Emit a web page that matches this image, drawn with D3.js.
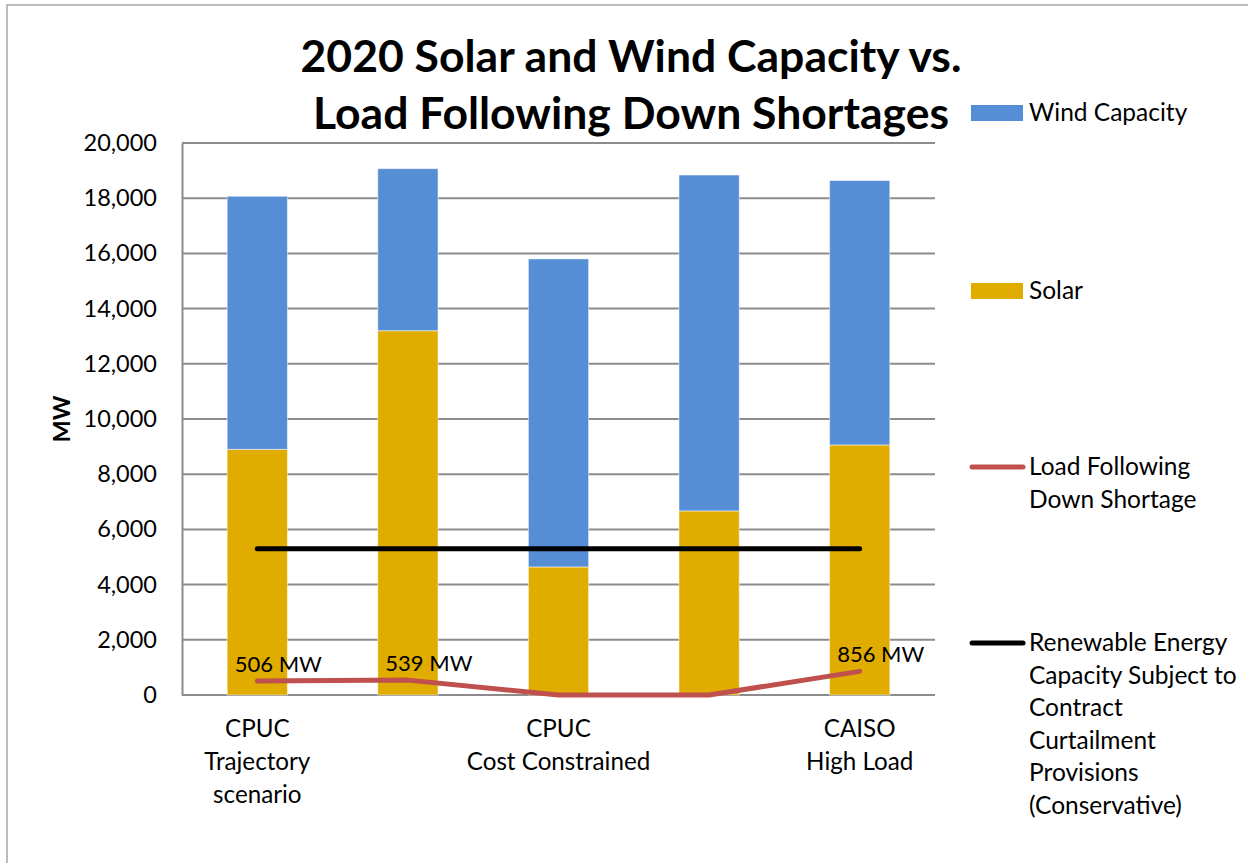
<!DOCTYPE html>
<meta charset="utf-8">
<script src="https://d3js.org/d3.v7.min.js"></script>
<style>
  body { margin: 0; background: #fff; }
  text { font-family: Lato, "Open Sans", sans-serif; fill: #000; }
</style>
<div id="chart"></div>
<script>

// data (MW)
var scenarios = [
  ["CPUC", "Trajectory", "scenario"],
  [""],
  ["CPUC", "Cost Constrained"],
  [""],
  ["CAISO", "High Load"]
];
var solar = [8900, 13200, 4640, 6670, 9060];
var wind = [9170, 5870, 11160, 12170, 9580];
var shortage = [506, 539, 0, 0, 856];
var shortageLabels = ["506 MW", "539 MW", "", "", "856 MW"];
var curtailable = [5300, 5300, 5300, 5300, 5300];
var yTicks = [0, 2000, 4000, 6000, 8000, 10000, 12000, 14000, 16000, 18000, 20000];

var W = 1248, H = 863;
var margin = {top: 143, left: 182, right: 313, bottom: 168};
var width = W - margin.left - margin.right,
    height = H - margin.top - margin.bottom;

var svg = d3.select("#chart").append("svg")
  .attr("width", W).attr("height", H);

// outer chart border
svg.append("rect")
  .attr("x", 7).attr("y", 5)
  .attr("width", 1260).attr("height", 880)
  .attr("fill", "none").attr("stroke", "#a6a6a6").attr("stroke-width", 1.5);

// title
svg.append("text").attr("x", 631).attr("y", 72)
  .attr("text-anchor", "middle").attr("font-weight", "bold").attr("font-size", 44.5)
  .text("2020 Solar and Wind Capacity vs.");
svg.append("text").attr("x", 631).attr("y", 129)
  .attr("text-anchor", "middle").attr("font-weight", "bold").attr("font-size", 44.5)
  .text("Load Following Down Shortages");

var g = svg.append("g")
  .attr("transform", "translate(" + margin.left + "," + margin.top + ")");

var x = d3.scaleBand()
  .domain(d3.range(scenarios.length))
  .range([0, width])
  .paddingInner(0.6).paddingOuter(0.3);

var y = d3.scaleLinear().domain([0, 20000]).range([height, 0]);

// gridlines
g.append("g")
  .selectAll("line").data(yTicks).join("line")
    .attr("x1", 0).attr("x2", width)
    .attr("y1", function(d) { return y(d); })
    .attr("y2", function(d) { return y(d); })
    .attr("stroke", "#8c8c8c").attr("stroke-width", 2);

// y axis
var yAxis = g.append("g")
  .call(d3.axisLeft(y).tickValues(yTicks).tickSize(0).tickPadding(25)
    .tickFormat(d3.format(",")));
yAxis.select(".domain").attr("stroke", "#8c8c8c").attr("stroke-width", 2);
yAxis.selectAll("text")
  .attr("font-size", 23.5).attr("font-family", "Lato, sans-serif").attr("fill", "#000");

svg.append("text")
  .attr("transform", "translate(61," + (margin.top + height / 2) + ") rotate(-90)")
  .attr("text-anchor", "middle").attr("dominant-baseline", "central")
  .attr("font-weight", "bold").attr("font-size", 23.5)
  .text("MW");

// stacked bars
var stack = d3.stack().keys(["solar", "wind"]);
var rows = solar.map(function(s, i) { return {i: i, solar: s, wind: wind[i]}; });
var layers = stack(rows);
var colors = {solar: "#e0ac00", wind: "#558ed5"};

g.selectAll(".layer").data(layers).join("g")
    .attr("fill", function(d) { return colors[d.key]; })
  .selectAll("rect").data(function(d) { return d; }).join("rect")
    .attr("x", function(d) { return x(d.data.i); })
    .attr("width", x.bandwidth())
    .attr("y", function(d) { return y(d[1]); })
    .attr("height", function(d) { return y(d[0]) - y(d[1]); })
    .attr("stroke", "rgba(255,255,255,0.5)").attr("stroke-width", 1);

var cx = function(i) { return x(i) + x.bandwidth() / 2; };

// curtailment line
g.append("path")
  .datum(curtailable)
  .attr("fill", "none").attr("stroke", "#000").attr("stroke-width", 5)
  .attr("stroke-linecap", "round")
  .attr("d", d3.line().x(function(d, i) { return cx(i); }).y(function(d) { return y(d); }));

// shortage line
g.append("path")
  .datum(shortage)
  .attr("fill", "none").attr("stroke", "#c0504d").attr("stroke-width", 5)
  .attr("stroke-linecap", "round").attr("stroke-linejoin", "round")
  .attr("d", d3.line().x(function(d, i) { return cx(i); }).y(function(d) { return y(d); }));

g.selectAll(".lbl").data(shortage).join("text")
  .attr("x", function(d, i) { return cx(i) + 21; })
  .attr("y", function(d) { return y(d) - 9; })
  .attr("text-anchor", "middle").attr("font-size", 22)
  .text(function(d, i) { return shortageLabels[i]; });

// category labels
g.selectAll(".cat").data(scenarios).join("text")
  .attr("text-anchor", "middle").attr("font-size", 24.2)
  .attr("transform", function(d, i) { return "translate(" + cx(i) + "," + (height + 42) + ")"; })
  .selectAll("tspan").data(function(d) { return d; }).join("tspan")
    .attr("x", 0).attr("dy", function(d, j) { return j ? 33 : 0; })
    .text(function(d) { return d; });

// legend
var legend = svg.append("g").attr("transform", "translate(971,0)");
var legendItems = [
  {type: "box", color: "#558ed5", y: 113, lines: ["Wind Capacity"]},
  {type: "box", color: "#e0ac00", y: 291, lines: ["Solar"]},
  {type: "line", color: "#c0504d", y: 467, lines: ["Load Following", "Down Shortage"]},
  {type: "line", color: "#000", y: 643, lines: ["Renewable Energy", "Capacity Subject to", "Contract", "Curtailment", "Provisions", "(Conservative)"]}
];
legendItems.forEach(function(it) {
  if (it.type === "box") {
    legend.append("rect").attr("x", 0).attr("y", it.y - 8).attr("width", 52).attr("height", 16)
      .attr("fill", it.color);
  } else {
    legend.append("line").attr("x1", 1).attr("x2", 52).attr("y1", it.y).attr("y2", it.y)
      .attr("stroke", it.color).attr("stroke-width", 5).attr("stroke-linecap", "round");
  }
  var t = legend.append("text").attr("x", 58).attr("y", it.y + 8).attr("font-size", 24.5);
  it.lines.forEach(function(l, j) {
    t.append("tspan").attr("x", 58).attr("dy", j ? 32.5 : 0).text(l);
  });
});

</script>
